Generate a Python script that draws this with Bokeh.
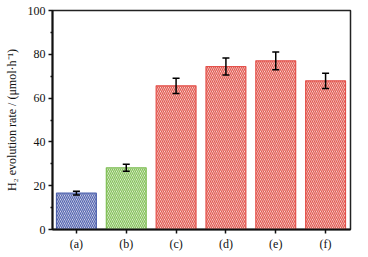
from bokeh.plotting import figure
from bokeh.models import ColumnDataSource, Range1d, FixedTicker, Whisker, TeeHead
from bokeh.embed import file_html
from bokeh.resources import INLINE

labels = ["(a)", "(b)", "(c)", "(d)", "(e)", "(f)"]
rates = [16.6, 28.2, 65.6, 74.4, 77.0, 67.9]
errors = [0.9, 1.6, 3.5, 3.9, 4.0, 3.5]
line_colors = ["#4f63ad", "#7fbf55", "#e4514b", "#e4514b", "#e4514b", "#e4514b"]
hatch_colors = ["#5666b0", "#86c25c", "#e25a52", "#e25a52", "#e25a52", "#e25a52"]
fill_colors = ["#eef0f8", "#f3f9ee", "#fdeeea", "#fdeeea", "#fdeeea", "#fdeeea"]

xs = list(range(len(labels)))
src = ColumnDataSource(dict(
    x=xs, top=rates,
    upper=[r + e for r, e in zip(rates, errors)],
    lower=[r - e for r, e in zip(rates, errors)],
    lc=line_colors, hc=hatch_colors, fc=fill_colors,
))

p = figure(width=368, height=257, output_backend="svg", toolbar_location=None,
           x_range=Range1d(-0.48, 5.5), y_range=Range1d(0, 100),
           min_border_left=52, min_border_right=18, min_border_top=10, min_border_bottom=28)
p.background_fill_color = "white"
p.border_fill_color = "white"
p.outline_line_color = "#222222"
p.outline_line_width = 1.5
p.xgrid.visible = False
p.ygrid.visible = False

p.vbar(x="x", top="top", bottom=0, width=0.8, source=src,
       fill_color="fc", line_color="lc", line_width=1.2,
       hatch_pattern="left_diagonal_line", hatch_color="hc",
       hatch_scale=4, hatch_weight=1.3)

w = Whisker(base="x", upper="upper", lower="lower", source=src,
            line_color="black", line_width=1.5, level="overlay",
            upper_head=TeeHead(size=7, line_color="black", line_width=1.5),
            lower_head=TeeHead(size=7, line_color="black", line_width=1.5))
p.add_layout(w)

font = "Liberation Serif"
p.xaxis.ticker = FixedTicker(ticks=xs)
p.xaxis.major_label_overrides = {i: l for i, l in enumerate(labels)}
p.xaxis.minor_tick_line_color = None
p.yaxis.ticker = FixedTicker(ticks=[0, 20, 40, 60, 80, 100],
                             minor_ticks=[10, 30, 50, 70, 90])
for ax in (p.xaxis[0], p.yaxis[0]):
    ax.axis_line_width = 2
    ax.axis_line_color = "#111111"
    ax.major_tick_line_width = 1.5
    ax.major_tick_line_color = "#111111"
    ax.major_tick_out = 4
    ax.major_tick_in = 0
    ax.major_label_text_font = font
    ax.major_label_text_font_size = "12px"
    ax.major_label_text_color = "#111111"
    ax.major_label_standoff = 3
p.yaxis.minor_tick_out = 2
p.yaxis.minor_tick_in = 0
p.yaxis.minor_tick_line_width = 1.5
p.yaxis.minor_tick_line_color = "#111111"
p.yaxis.axis_label = "H\u2082 evolution rate / (\u03bcmol\u00b7h\u207b\u00b9)"
p.yaxis.axis_label_text_font = font
p.yaxis.axis_label_text_font_style = "normal"
p.yaxis.axis_label_text_font_size = "12px"
p.yaxis.axis_label_text_color = "#111111"
p.yaxis.axis_label_standoff = 6

open("out.html", "w").write(file_html(p, INLINE))
